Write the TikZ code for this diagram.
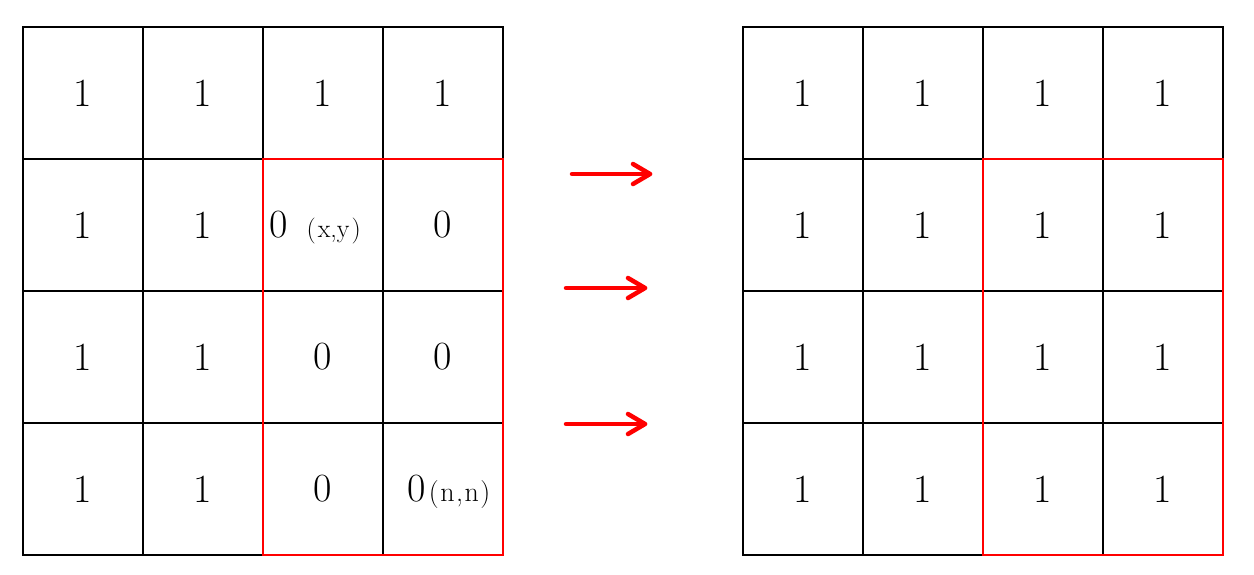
\documentclass[tikz,border=0pt]{standalone}
\begin{document}
\begin{tikzpicture}[x=1pt,y=-1pt,
  cell/.style={draw=black,line width=1.6pt,outer sep=0pt,minimum width=120pt,minimum height=132pt,inner sep=0pt,font=\fontsize{40}{40}\selectfont},
  region/.style={draw=red,line width=1.5pt},
  redline/.style={draw=red,line width=4.5pt,line cap=round,line join=round}]
\useasboundingbox (0,0) rectangle (1254,574);
% left grid
\node[cell] (L11) at (83,93) {1};
\node[cell] (L12) at (203,93) {1};
\node[cell] (L13) at (323,93) {1};
\node[cell] (L14) at (443,93) {1};
\node[cell] (L21) at (83,225) {1};
\node[cell] (L22) at (203,225) {1};
\node[cell] (L23) at (323,225) {0\smash{\hspace{19pt}\fontsize{26}{26}\selectfont(\hspace{2pt}x,y\hspace{2pt})}\hspace*{16pt}};
\node[cell] (L24) at (443,225) {0};
\node[cell] (L31) at (83,357) {1};
\node[cell] (L32) at (203,357) {1};
\node[cell] (L33) at (323,357) {0};
\node[cell] (L34) at (443,357) {0};
\node[cell] (L41) at (83,489) {1};
\node[cell] (L42) at (203,489) {1};
\node[cell] (L43) at (323,489) {0};
\node[cell] (L44) at (443,489) {\hspace*{12pt}0\smash{\hspace{3pt}\fontsize{28}{28}\selectfont(\kern1.5pt n\kern1.5pt,\kern1.5pt n\kern1.5pt)}};
% right grid
\foreach \r/\y in {1/93,2/225,3/357,4/489}{
  \foreach \c/\x in {1/803,2/923,3/1043,4/1163}{
    \node[cell] (R\r\c) at (\x,\y) {1};
  }
}
% red regions
\draw[region] (L23.north west) rectangle (L44.south east);
\draw[region] (R23.north west) rectangle (R44.south east);
% arrows
\coordinate (a1s) at (572,174);
\coordinate (a1e) at (650,174);
\coordinate (a2s) at (566,288);
\coordinate (a2e) at (645,288);
\coordinate (a3s) at (566,424);
\coordinate (a3e) at (645,424);
\foreach \s/\e in {a1s/a1e,a2s/a2e,a3s/a3e}{
  \draw[redline] (\s) -- (\e);
  \draw[redline] ([shift={(-17,-10)}]\e) -- (\e) -- ([shift={(-17,10)}]\e);
}
\end{tikzpicture}
\end{document}
